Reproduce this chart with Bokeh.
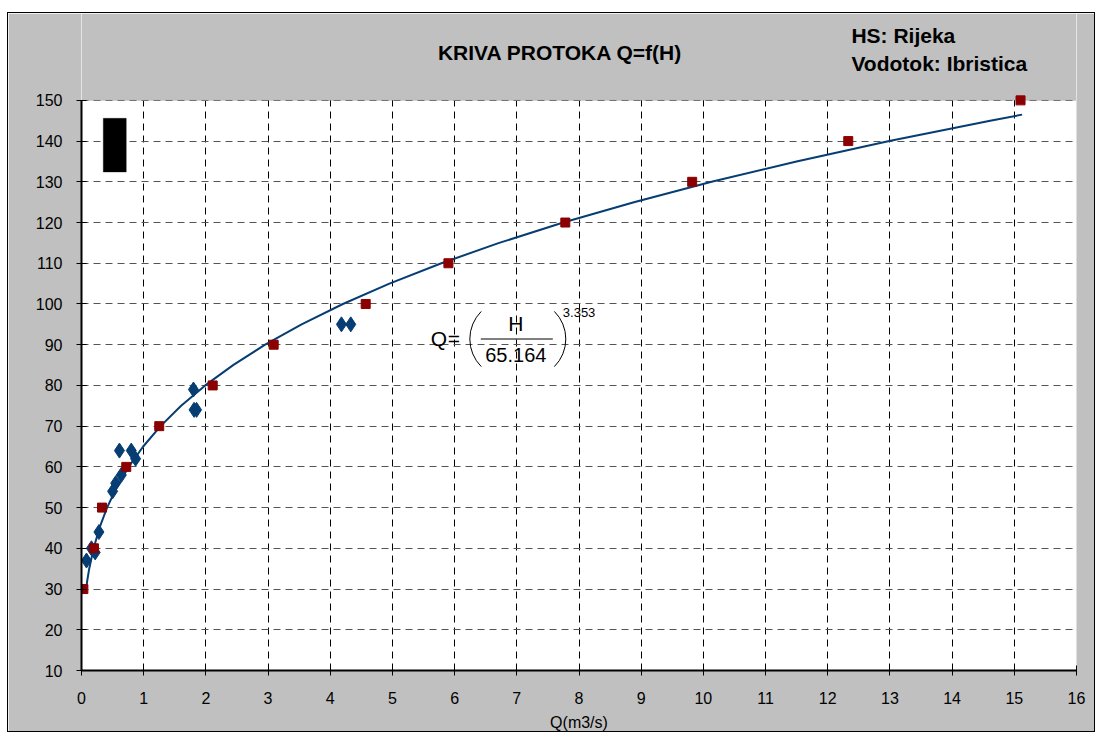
from bokeh.plotting import figure
from bokeh.models import (Label, BoxAnnotation, FixedTicker, Range1d)
from bokeh.embed import file_html
from bokeh.resources import INLINE
import math

# ---- data ----
curve_H = [30, 32, 35, 40, 45, 50, 55, 60, 65, 70, 75, 80, 85, 90, 95, 100,
           105, 110, 115, 120, 125, 130, 135, 140, 145, 146.5]
curve_Q = [0.074, 0.092, 0.124, 0.195, 0.289, 0.411, 0.566, 0.758, 0.992, 1.271,
           1.602, 1.989, 2.438, 2.953, 3.539, 4.203, 4.951, 5.787, 6.716, 7.747,
           8.883, 10.132, 11.498, 12.989, 14.612, 15.125]

meas_Q = [0.08, 0.16, 0.22, 0.28, 0.50, 0.55, 0.64, 0.61, 0.80, 0.87,
          1.80, 1.81, 1.85, 4.18, 4.33]
meas_H = [37, 40, 39, 44, 54, 56, 58, 64, 64, 62, 79, 74, 74, 95, 95]

old_Q = [0.03, 0.20, 0.33, 0.72, 1.25, 2.11, 3.09, 4.57, 5.90, 7.78, 9.82, 12.33, 15.10]
old_H = [30, 40, 50, 60, 70, 80, 90, 100, 110, 120, 130, 140, 150]

x_ticks = list(range(0, 17))
y_ticks = list(range(10, 151, 10))

title = "KRIVA PROTOKA Q=f(H)"
station = "HS: Rijeka"
river = "Vodotok: Ibristica"
x_label = "Q(m3/s)"

FONT = "Liberation Sans"
GRAY = "#C0C0C0"
X0, X1, Y0, Y1 = 0, 16, 10, 150
Y_TOP = 171.33   # extra room above the plot area for the headings

p = figure(width=1088, height=720, output_backend="svg", toolbar_location=None,
           x_range=Range1d(X0, X1), y_range=Range1d(Y0, Y_TOP),
           min_border_left=73, min_border_right=20, min_border_top=0,
           min_border_bottom=62)
p.margin = (12, 0, 0, 7)
p.border_fill_color = GRAY
p.background_fill_color = "white"
p.outline_line_color = None
p.styles = {"border": "1px solid black"}

# axes
for ax in (p.xaxis[0], p.yaxis[0]):
    ax.axis_line_color = "black"
    ax.axis_line_width = 2
    ax.major_tick_line_color = "black"
    ax.major_tick_in = 5
    ax.major_tick_out = 5
    ax.minor_tick_line_color = None
    ax.major_label_text_font = FONT
    ax.major_label_text_font_size = "16px"
    ax.major_label_text_color = "black"
p.xaxis.ticker = FixedTicker(ticks=x_ticks)
p.yaxis.ticker = FixedTicker(ticks=y_ticks)
p.yaxis.bounds = (Y0, Y1)
p.xaxis.major_label_standoff = 16
p.yaxis.major_label_standoff = 14
p.xaxis.axis_label = x_label
p.xaxis.axis_label_text_font = FONT
p.xaxis.axis_label_text_font_style = "normal"
p.xaxis.axis_label_text_font_size = "16px"
p.xaxis.axis_label_text_color = "black"
p.xaxis.axis_label_standoff = 7

p.xgrid.grid_line_color = "black"
p.xgrid.grid_line_dash = "7 5"
p.xgrid.bounds = (Y0, Y1)
p.ygrid.grid_line_color = "#555555"
p.ygrid.grid_line_dash = "7 5"

# grey band above the plot area and the plot-area border
p.add_layout(BoxAnnotation(bottom=Y1, fill_color=GRAY, fill_alpha=1,
                           line_color=None, level="underlay"))
p.add_layout(BoxAnnotation(left=X0, right=X1, bottom=Y0, top=Y1,
                           fill_alpha=0, line_color="#808080", line_width=1,
                           level="underlay"))

# series
p.line(curve_Q, curve_H, line_color="#063d73", line_width=2)
p.scatter(meas_Q, meas_H, marker="diamond", size=15, fill_color="#063d73",
          line_color="#063d73")
p.scatter(old_Q, old_H, marker="square", size=9, fill_color="#8B0000",
          line_color="#8B0000")

# legend-like black block
p.add_layout(BoxAnnotation(left=0.35, right=0.72, bottom=132.4, top=145.6,
                           fill_color="black", fill_alpha=1, line_color="black"))

# equation annotation (anchored at fraction centre)
ax0, ay0 = 7.0, 91.4
xs = 1 / 62.19   # data units per pixel (x)
def lab(txt, dx, dy, size, align="center"):
    p.add_layout(Label(x=ax0, y=ay0, x_offset=dx, y_offset=dy, text=txt,
                       text_font=FONT, text_font_size=size, text_align=align,
                       text_baseline="middle", text_color="black"))
lab("Q", -78, 1, "21px")
lab("=", -63, 1, "21px")
lab("H", -1, 16, "21px")
lab("65.164", -1, -16, "20px")
lab("3.353", 46, 27, "13px", "left")
p.segment(x0=[ax0 - 36 * xs], y0=[ay0], x1=[ax0 + 36 * xs], y1=[ay0],
          line_color="black", line_width=1)
p.arc(x=[ax0 - 8 * xs], y=[ay0], radius=39, radius_units="screen",
      start_angle=math.radians(135), end_angle=math.radians(225),
      line_color="black", line_width=1)
p.arc(x=[ax0 + 10 * xs], y=[ay0], radius=39, radius_units="screen",
      start_angle=math.radians(-45), end_angle=math.radians(45),
      line_color="black", line_width=1)

# headings, in data units inside the grey band
def head(txt, x, y, align):
    p.add_layout(Label(x=x, y=y, text=txt, text_font=FONT,
                       text_font_size="21px", text_font_style="bold",
                       text_align=align, text_baseline="alphabetic",
                       text_color="black"))
head(title, 7.70, 161.77, "center")
head(station, 12.38, 165.94, "left")
head(river, 12.38, 159.07, "left")

open("out.html", "w").write(file_html(p, INLINE))
